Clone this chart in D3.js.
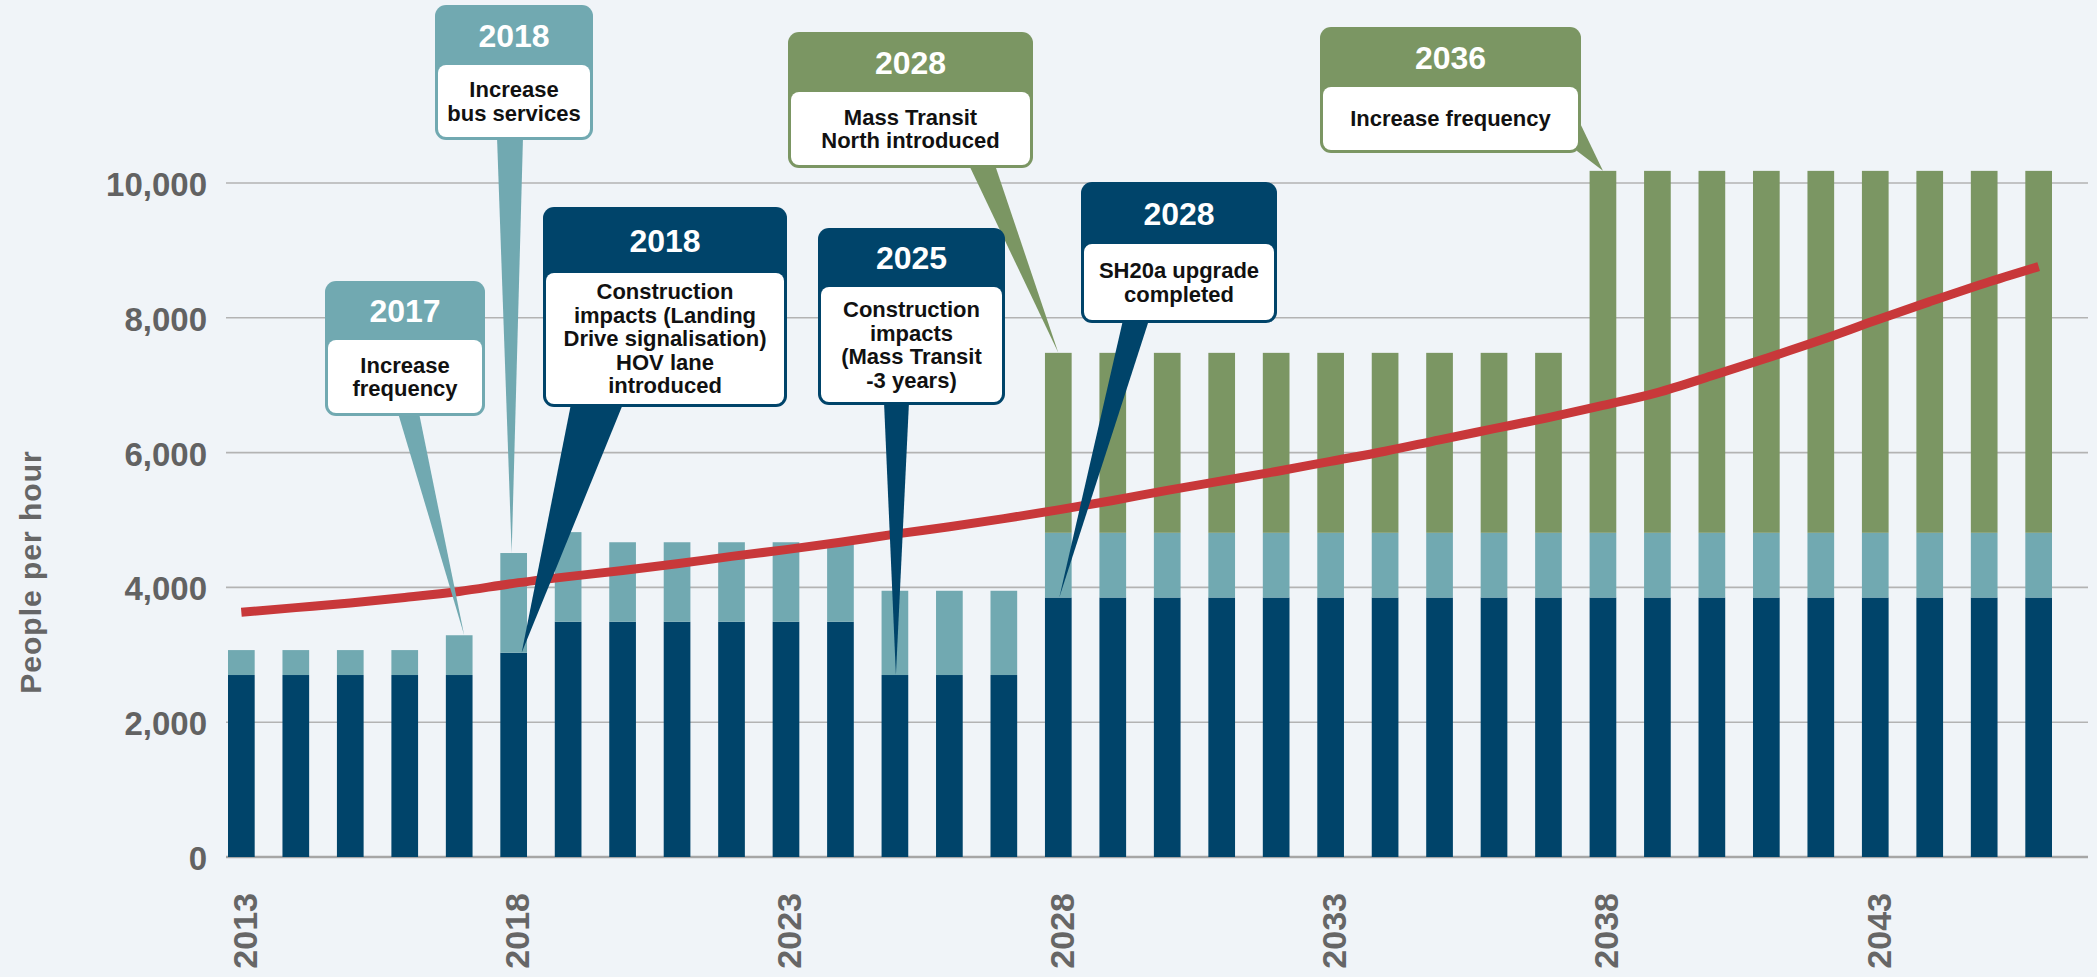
<!DOCTYPE html>
<html>
<head>
<meta charset="utf-8">
<script src="https://cdn.jsdelivr.net/npm/d3@7/dist/d3.min.js"></script>
<style>
  body { margin: 0; background: #f0f4f8; }
  svg { display: block; }
  text { font-family: "Liberation Sans", Arial, sans-serif; font-weight: bold; }
</style>
</head>
<body>
<div id="chart"></div>
<script>
// ---- data ----
var years = [2013, 2014, 2015, 2016, 2017, 2018, 2019, 2020, 2021, 2022, 2023, 2024,
  2025, 2026, 2027, 2028, 2029, 2030, 2031, 2032, 2033, 2034, 2035, 2036, 2037,
  2038, 2039, 2040, 2041, 2042, 2043, 2044, 2045, 2046];

// dark blue: base bus capacity
var busBase = [2700, 2700, 2700, 2700, 2700, 3030, 3490, 3490, 3490, 3490, 3490, 3490,
  2700, 2700, 2700, 3850, 3850, 3850, 3850, 3850, 3850, 3850, 3850, 3850, 3850,
  3850, 3850, 3850, 3850, 3850, 3850, 3850, 3850, 3850];

// teal: additional bus services
var busExtra = [370, 370, 370, 370, 590, 1480, 1330, 1180, 1180, 1180, 1180, 1180,
  1250, 1250, 1250, 960, 960, 960, 960, 960, 960, 960, 960, 960, 960,
  960, 960, 960, 960, 960, 960, 960, 960, 960];

// green: mass transit
var massTransit = [0, 0, 0, 0, 0, 0, 0, 0, 0, 0, 0, 0,
  0, 0, 0, 2670, 2670, 2670, 2670, 2670, 2670, 2670, 2670, 2670, 2670,
  5370, 5370, 5370, 5370, 5370, 5370, 5370, 5370, 5370];

// red line: demand
var demand = [3630, 3700, 3770, 3850, 3940, 4060, 4160, 4250, 4350, 4460, 4560, 4670,
  4790, 4900, 5020, 5150, 5290, 5440, 5580, 5720, 5870, 6020, 6190, 6355, 6520,
  6700, 6890, 7140, 7400, 7670, 7960, 8240, 8510, 8760];

var yTicks = [0, 2000, 4000, 6000, 8000, 10000];
var xTickYears = [2013, 2018, 2023, 2028, 2033, 2038, 2043];
var yTitle = "People per hour";

// callouts
var noteTitles = ["2017", "2018", "2018", "2025", "2028", "2028", "2036"];
var noteLines = [
  ["Increase", "frequency"],
  ["Increase", "bus services"],
  ["Construction", "impacts (Landing", "Drive signalisation)", "HOV lane", "introduced"],
  ["Construction", "impacts", "(Mass Transit", "-3 years)"],
  ["Mass Transit", "North introduced"],
  ["SH20a upgrade", "completed"],
  ["Increase frequency"]
];
var noteTarget = [2017, 2018, 2018, 2025, 2028, 2028, 2038];
var noteSeries = ["extra", "extra", "bus", "bus", "mass", "bus", "mass"];

// ---- layout ----
var W = 2097, H = 977;
var colors = { bus: "#00446a", extra: "#71a9b1", mass: "#7b9663" };
var boxes = [
  { x: 325, y: 281, w: 160, h: 135, hh: 59, base: [[398, 413], [419, 413]], dx: 5 },
  { x: 435, y: 5, w: 158, h: 135, hh: 60, base: [[497, 137], [523, 137]], dx: -2 },
  { x: 543, y: 207, w: 244, h: 200, hh: 66, base: [[571, 404], [623, 404]], dx: 8 },
  { x: 818, y: 228, w: 187, h: 177, hh: 59, base: [[884, 402], [909, 402]], dx: 1 },
  { x: 788, y: 32, w: 245, h: 136, hh: 60, base: [[969, 165], [995, 165]], dx: 0 },
  { x: 1081, y: 182, w: 196, h: 141, hh: 62, base: [[1123, 320], [1149, 320]], dx: 1 },
  { x: 1320, y: 27, w: 261, h: 126, hh: 60, base: [[1579, 121], [1577, 151]], dx: 0 }
];

var table = years.map(function (yr, i) {
  return { year: yr, bus: busBase[i], extra: busExtra[i], mass: massTransit[i] };
});
var keys = ["bus", "extra", "mass"];
var stacked = d3.stack().keys(keys)(table);

var x = d3.scaleBand().domain(years).range([228, 2052]).paddingInner(0.51).paddingOuter(0);
var y = d3.scaleLinear().domain([0, 10000]).range([857, 183]);

var svg = d3.select("#chart").append("svg")
  .attr("width", W)
  .attr("height", H);

svg.append("rect").attr("width", W).attr("height", H).attr("fill", "#f0f4f8");

// gridlines
svg.append("g")
  .selectAll("line")
  .data(yTicks)
  .enter().append("line")
  .attr("x1", 226).attr("x2", 2088)
  .attr("y1", function (d) { return y(d); })
  .attr("y2", function (d) { return y(d); })
  .attr("stroke", function (d) { return d === 0 ? "#a6a6a6" : "#b3b3b3"; })
  .attr("stroke-width", function (d) { return d === 0 ? 2.5 : 1.6; });

// y tick labels
svg.append("g")
  .selectAll("text")
  .data(yTicks)
  .enter().append("text")
  .attr("x", 207)
  .attr("y", function (d) { return y(d) + 13; })
  .attr("text-anchor", "end")
  .attr("font-size", 33)
  .attr("fill", "#626262")
  .text(function (d) { return d3.format(",")(d); });

// y title
svg.append("text")
  .attr("transform", "translate(41,572) rotate(-90)")
  .attr("text-anchor", "middle")
  .attr("font-size", 30)
  .attr("letter-spacing", 1)
  .attr("fill", "#666")
  .text(yTitle);

// x tick labels
svg.append("g")
  .selectAll("text")
  .data(xTickYears)
  .enter().append("text")
  .attr("transform", function (d) {
    return "translate(" + (x(d) + x.bandwidth() / 2 + 3) + ",893) rotate(-90)";
  })
  .attr("text-anchor", "end")
  .attr("dy", "0.36em")
  .attr("font-size", 34)
  .attr("fill", "#666")
  .text(function (d) { return d; });

// stacked bars
svg.append("g")
  .selectAll("g")
  .data(stacked)
  .enter().append("g")
  .attr("fill", function (s) { return colors[s.key]; })
  .selectAll("rect")
  .data(function (s) { return s; })
  .enter().append("rect")
  .attr("x", function (d) { return x(d.data.year); })
  .attr("width", x.bandwidth())
  .attr("y", function (d) { return y(d[1]); })
  .attr("height", function (d) { return y(d[0]) - y(d[1]); });

// demand line
var line = d3.line()
  .x(function (d, i) { return x(years[i]) + x.bandwidth() / 2; })
  .y(function (d) { return y(d); })
  .curve(d3.curveMonotoneX);

svg.append("path")
  .datum(demand)
  .attr("d", line)
  .attr("fill", "none")
  .attr("stroke", "#c8383a")
  .attr("stroke-width", 9);

// callouts
var notes = svg.append("g");
noteTitles.forEach(function (title, i) {
  var b = boxes[i];
  var c = colors[noteSeries[i]];
  var idx = years.indexOf(noteTarget[i]);
  var s = stacked[keys.indexOf(noteSeries[i])][idx];
  var tip = [x(noteTarget[i]) + x.bandwidth() / 2 + b.dx, y(s[1])];

  notes.append("path")
    .attr("d", "M" + b.base[0] + "L" + tip + "L" + b.base[1] + "Z")
    .attr("fill", c);
});

noteTitles.forEach(function (title, i) {
  var b = boxes[i];
  var c = colors[noteSeries[i]];
  var g = notes.append("g");
  g.append("rect")
    .attr("x", b.x).attr("y", b.y).attr("width", b.w).attr("height", b.h)
    .attr("rx", 11).attr("fill", c);
  g.append("rect")
    .attr("x", b.x + 3).attr("y", b.y + b.hh).attr("width", b.w - 6).attr("height", b.h - b.hh - 3)
    .attr("rx", 8).attr("fill", "#fff");
  g.append("text")
    .attr("x", b.x + b.w / 2)
    .attr("y", b.y + b.hh / 2)
    .attr("dy", "0.36em")
    .attr("text-anchor", "middle")
    .attr("font-size", 32)
    .attr("fill", "#fff")
    .text(title);
  var lines = noteLines[i];
  var lh = 23.5;
  var mid = b.y + b.hh + (b.h - b.hh - 3) / 2;
  g.selectAll("text.body")
    .data(lines)
    .enter().append("text")
    .attr("class", "body")
    .attr("x", b.x + b.w / 2)
    .attr("y", function (d, k) { return mid + (k - (lines.length - 1) / 2) * lh; })
    .attr("dy", "0.36em")
    .attr("text-anchor", "middle")
    .attr("font-size", 22)
    .attr("fill", "#111")
    .text(function (d) { return d; });
});
</script>
</body>
</html>
